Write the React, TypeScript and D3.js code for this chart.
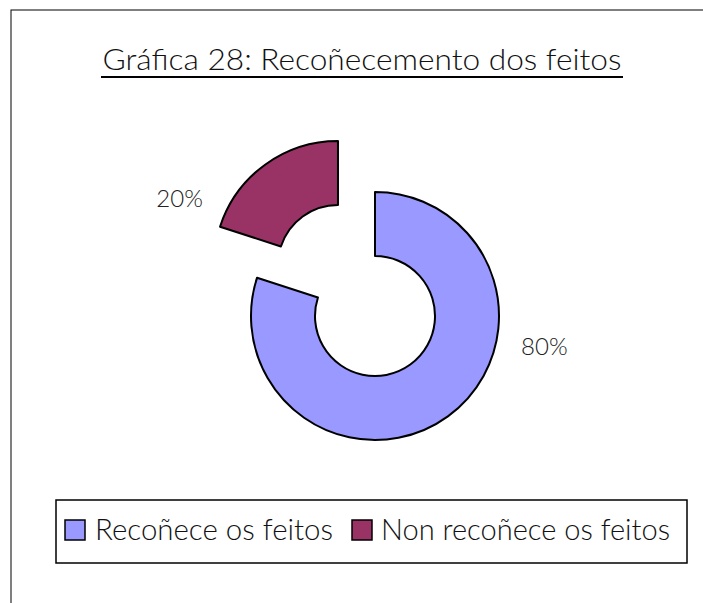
import React from "react";
import * as d3 from "d3";

const categories = ["Recoñece os feitos", "Non recoñece os feitos"];
const values = [80, 20];
const labels = ["80%", "20%"];
const colors = ["#9999FF", "#993366"];

const W = 703;
const H = 603;
const FONT = "'Lato', 'DejaVu Sans', sans-serif";

export default function App() {
  const cx = 375;
  const cy = 316;
  const outerR = 124;
  const innerR = 60;
  const explode = 63;

  const pie = d3.pie<number>().sort(null).startAngle(0).endAngle(2 * Math.PI);
  const arcs = pie(values);
  const arc = d3.arc<d3.PieArcDatum<number>>().innerRadius(innerR).outerRadius(outerR);

  // excel-ish label placement
  const labelAngles = [(100 * Math.PI) / 180, (293 * Math.PI) / 180];
  const labelR = 172;

  return (
    <svg
      width={W}
      height={H}
      style={{ position: "absolute", left: 0, top: 0, background: "#fff" }}
    >
      <rect x={11} y={10} width={700} height={600} fill="#fff" stroke="#000" strokeWidth={1} />

      <text
        x={362}
        y={70}
        textAnchor="middle"
        fontFamily={FONT}
        fontSize={29}
        fontWeight={300}
        fill="#111"
        textLength={519}
        lengthAdjust="spacingAndGlyphs"
      >
        Gráfica 28: Recoñecemento dos feitos
      </text>
      <line x1={101} x2={623} y1={77} y2={77} stroke="#000" strokeWidth={2} />

      {arcs.map((a, i) => {
        const mid = (a.startAngle + a.endAngle) / 2;
        const off = i === 1 ? explode : 0;
        const ox = cx + Math.sin(mid) * off;
        const oy = cy - Math.cos(mid) * off;
        const la = labelAngles[i];
        return (
          <g key={categories[i]}>
            <path
              d={arc(a) || ""}
              transform={`translate(${ox},${oy})`}
              fill={colors[i]}
              stroke="#000"
              strokeWidth={2}
              strokeLinejoin="round"
            />
            <text
              x={ox + Math.sin(la) * labelR}
              y={oy - Math.cos(la) * labelR}
              textAnchor="middle"
              dominantBaseline="central"
              fontFamily={FONT}
              fontSize={24}
              fontWeight={300}
              fill="#222"
            >
              {labels[i]}
            </text>
          </g>
        );
      })}

      <rect x={56} y={500} width={631} height={63} fill="#fff" stroke="#000" strokeWidth={1.5} />
      {categories.map((c, i) => {
        const sx = [65, 352][i];
        const tx = [95, 381][i];
        const tw = [238, 289][i];
        return (
          <g key={c}>
            <rect x={sx} y={520} width={20} height={20} fill={colors[i]} stroke="#000" strokeWidth={1.5} />
            <text
              x={tx}
              y={540}
              fontFamily={FONT}
              fontSize={29}
              fontWeight={300}
              fill="#111"
              textLength={tw}
              lengthAdjust="spacingAndGlyphs"
            >
              {c}
            </text>
          </g>
        );
      })}
    </svg>
  );
}
